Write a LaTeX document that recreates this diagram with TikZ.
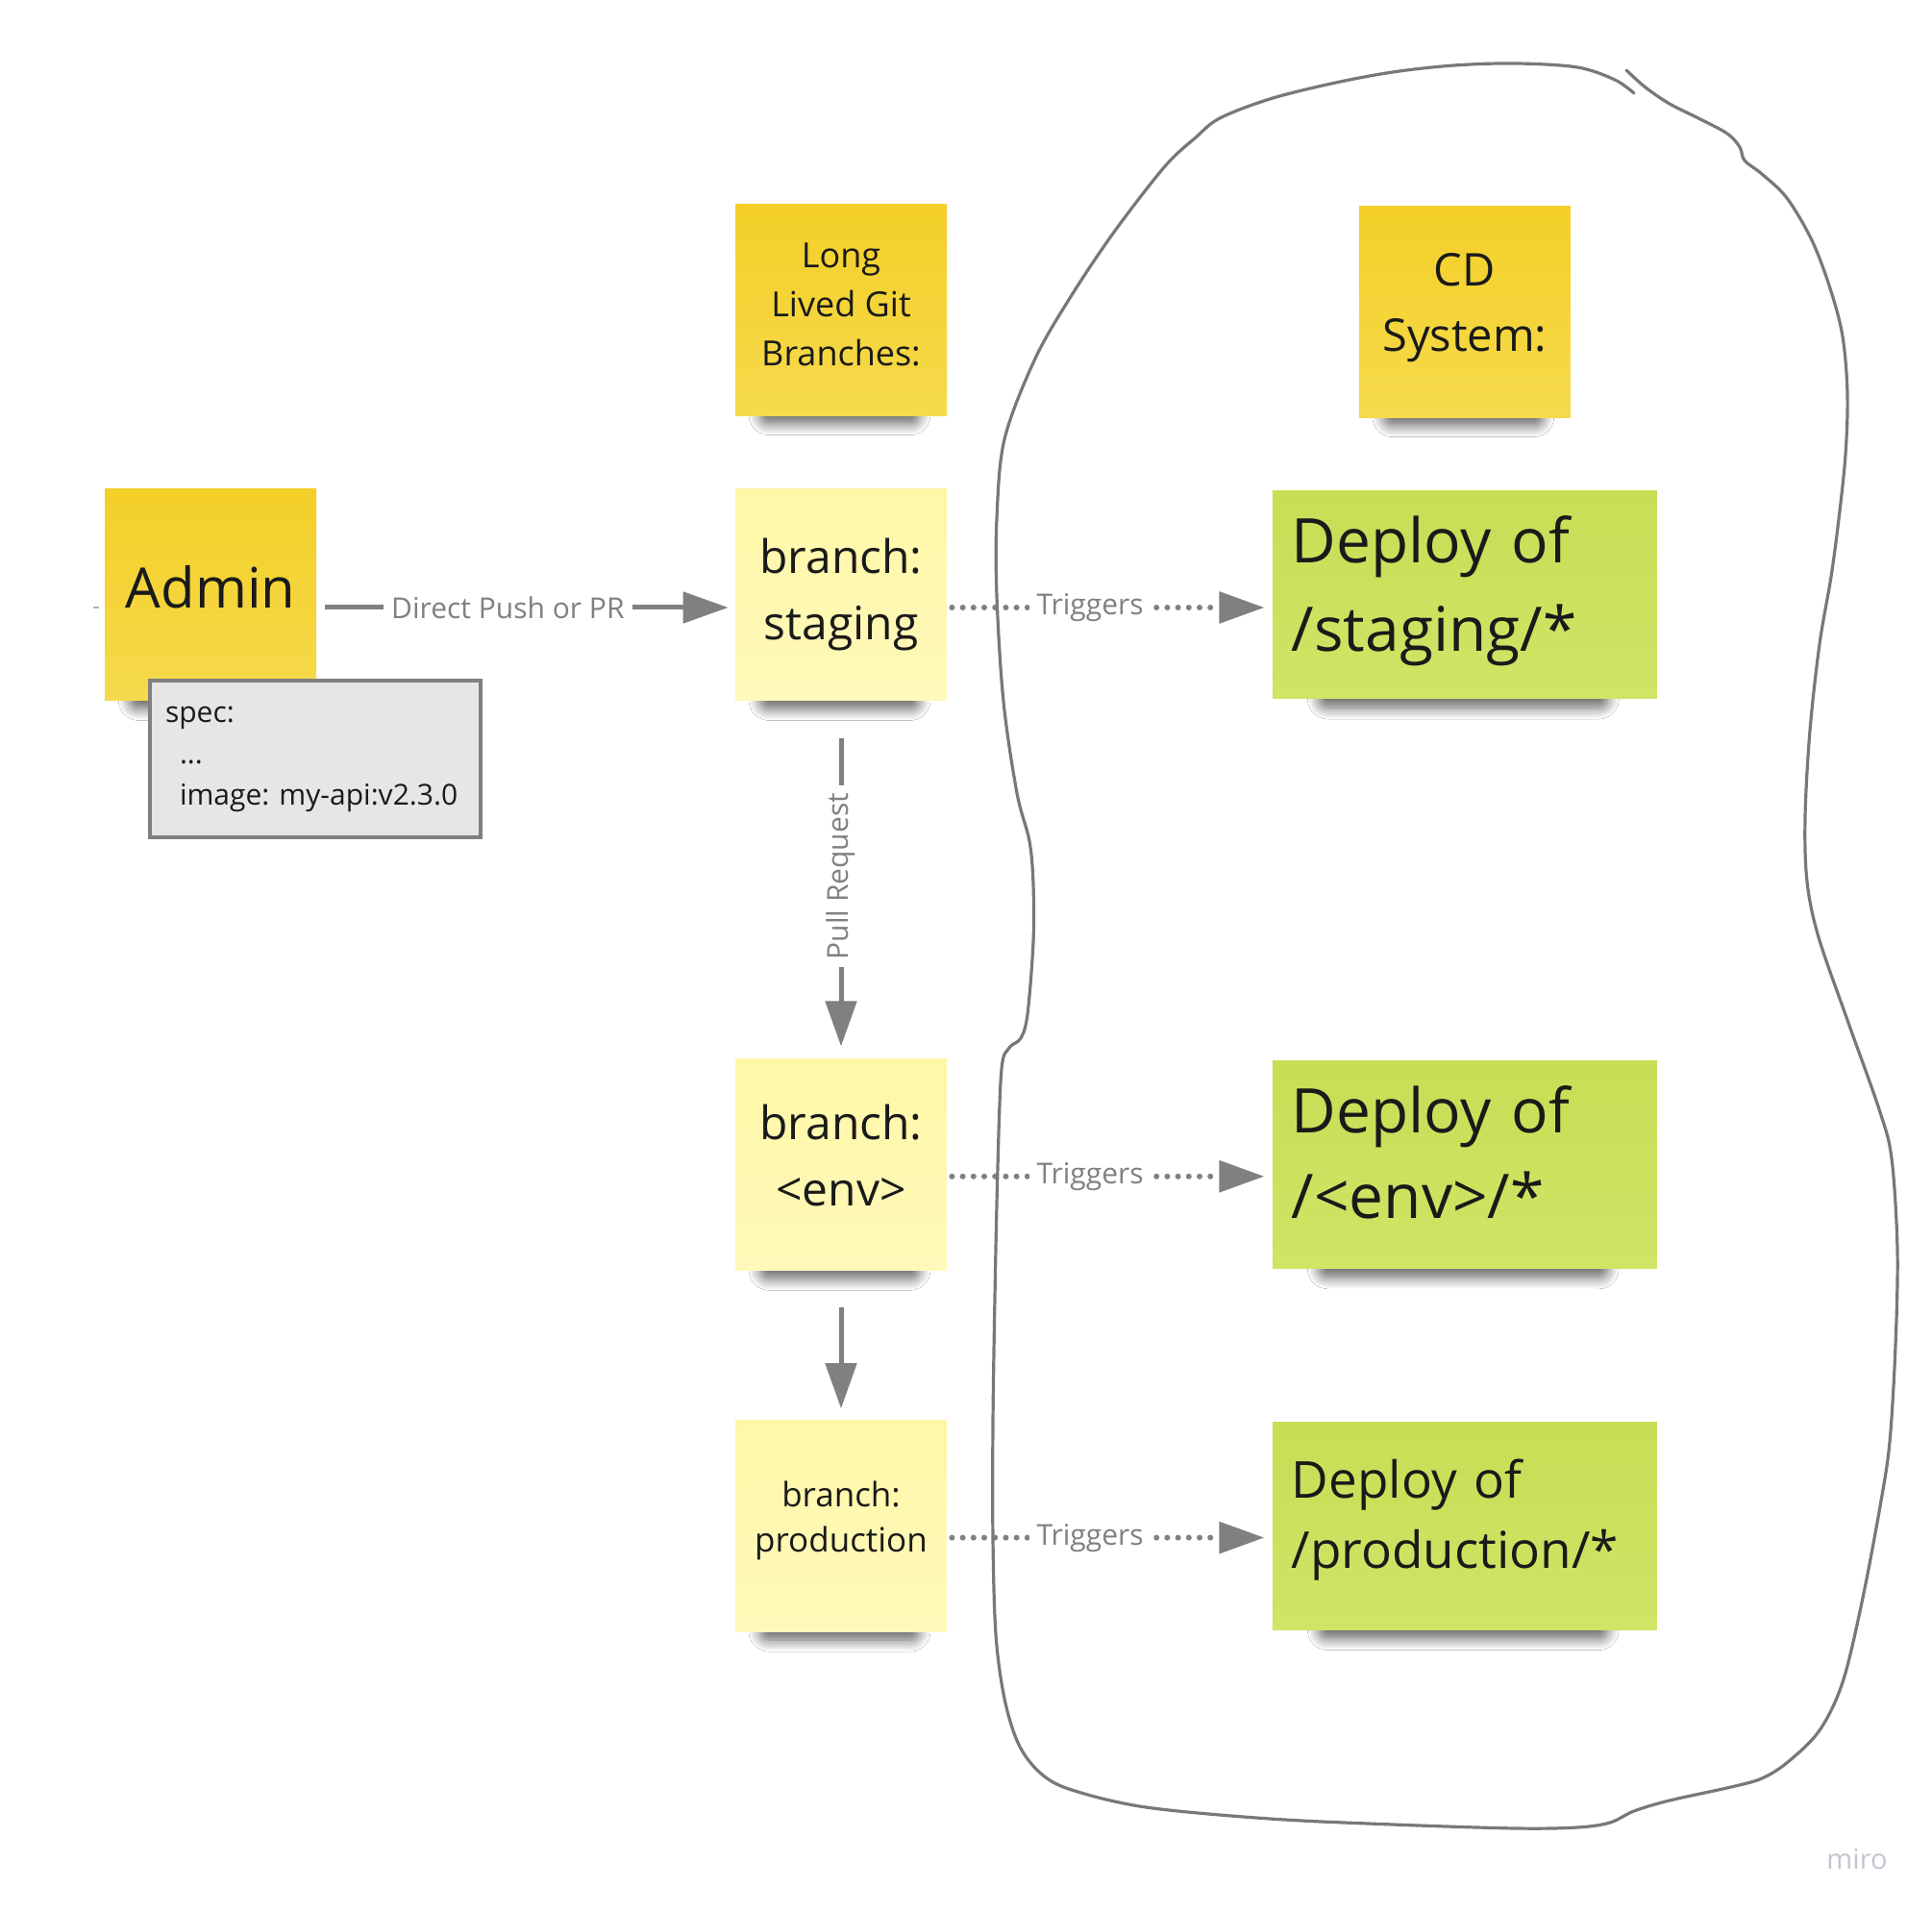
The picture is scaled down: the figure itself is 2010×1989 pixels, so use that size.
\documentclass[tikz,border=0pt]{standalone}
\usepackage{fontspec}
\setmainfont{Open Sans}
\usetikzlibrary{arrows.meta,positioning,shadows.blur}

\definecolor{stickyyel}{HTML}{F3CF27}
\definecolor{stickyyelb}{HTML}{F6DA4C}
\definecolor{stickylt}{HTML}{FFF7A8}
\definecolor{stickyltb}{HTML}{FFF9BA}
\definecolor{stickygrn}{HTML}{C7DE55}
\definecolor{stickygrnb}{HTML}{D0E466}
\definecolor{linegray}{HTML}{808080}
\definecolor{inkblack}{HTML}{1A1A1A}
\definecolor{specgray}{HTML}{E6E6E6}
\definecolor{mirogray}{HTML}{C4C5D0}
\definecolor{penline}{HTML}{787878}
\newcommand{\fs}[2]{\fontsize{#1}{#2}\selectfont}

\begin{document}
\begin{tikzpicture}[
x=0.5pt,y=-0.5pt,
node distance=38pt and 169pt,
sticky/.style={inner sep=0pt,align=center,text=inkblack,
minimum width=110pt,minimum height=110pt,
blur shadow={shadow xshift=-1pt,shadow yshift=-24pt,shadow scale=0.75,
shadow blur radius=8pt,shadow blur steps=12,shadow opacity=62,
shadow blur extra rounding=6pt}},
head/.style={sticky,top color=stickyyel,bottom color=stickyyelb},
branch/.style={sticky,top color=stickylt,bottom color=stickyltb},
deploy/.style={sticky,top color=stickygrn,bottom color=stickygrnb,
minimum width=200pt,minimum height=108pt,align=left,text width=180pt},
specbox/.style={draw=linegray,line width=2pt,fill=specgray,text=inkblack,
minimum width=172pt,minimum height=81.5pt,inner xsep=8pt,text width=156pt,
align=left,font=\fs{15pt}{21.5pt}\frenchspacing},
conn/.style={draw=linegray,line width=2.5pt,-{Triangle[length=23.5pt,width=16pt]}},
trig/.style={conn,line width=3pt,dash pattern=on 0pt off 5.6pt,line cap=round,
shorten <=2.5pt,shorten >=4pt},
lbl/.style={fill=white,text=linegray,inner xsep=4pt,inner ysep=2pt,
font=\fs{15pt}{18pt}},
pen/.style={draw=penline,line width=1.6pt,line cap=round,line join=round}
]
\fill[white] (0,0) rectangle (2010,1989);
\useasboundingbox (0,0) rectangle (2010,1989);

\node[branch,font=\fs{24pt}{34.5pt}] (staging) at (875,619) {branch:\\staging};
\node[head,font=\fs{18pt}{25.5pt},text depth=6pt,above=of staging] (longlived) {Long\\Lived Git\\Branches:};
\node[head,font=\fs{29pt}{35pt},text depth=9pt,left=217.5pt of staging] (admin) {Admin};
\node[branch,font=\fs{24pt}{34.5pt},text depth=10pt,below=186pt of staging] (env) {branch:\\<env>};
\node[branch,font=\fs{17.5pt}{23.5pt},text depth=10pt,below=77.5pt of env] (prod) {branch:\\production};
\node[deploy,font=\fs{32pt}{46pt},text depth=57.7pt,right=of staging] (depstg) {Deploy of\\/staging/*};
\node[deploy,font=\fs{32pt}{44.5pt},text depth=57.7pt,right=of env] (depenv) {Deploy of\\/<env>/*};
\node[deploy,font=\fs{26.5pt}{36.5pt},text depth=49.5pt,right=of prod] (depprod) {Deploy of\\/production/*};
\node[head,font=\fs{23.5pt}{34pt},text depth=9.5pt,above=of depstg] (cdsys) {CD\\System:};
\node[specbox,anchor=north west] (spec) at (154,706)
{spec:\\\hspace*{7.5pt}...\\\hspace*{7.5pt}image: my-api:v2.3.0};
\node[text=mirogray,font=\fs{14.5pt}{16pt}] (miro) at (1932,1934) {miro};

\coordinate (stubL) at (97,632);
\coordinate (stubR) at (103,632);
\draw[draw=linegray!60,line width=1pt] (stubL) -- (stubR);

\draw[conn,shorten <=4pt,shorten >=3.5pt] ([yshift=-6.5pt]admin.east) --
node[lbl,pos=0.457]{Direct Push or PR} ([yshift=-6.5pt]staging.west);
\draw[conn,shorten <=19.5pt,shorten >=6.5pt] (staging) --
node[lbl,rotate=90,pos=0.49]{Pull Request} (env);
\draw[conn,shorten <=19pt,shorten >=6pt] (env) -- (prod);
\draw[trig] ([yshift=-6.5pt]staging.east) --
node[lbl,pos=0.44]{Triggers} ([yshift=-6.5pt]depstg.west);
\draw[trig] ([yshift=-6pt]env.east) --
node[lbl,pos=0.44]{Triggers} ([yshift=-6pt]depenv.west);
\draw[trig] ([yshift=-6pt]prod.east) --
node[lbl,pos=0.44]{Triggers} ([yshift=-6pt]depprod.west);

\draw[pen] plot[smooth,tension=0.55] coordinates {
(1692,73) (1712,91) (1737,108) (1769,124) (1797,139) (1810,153) (1815,167)
(1833,181) (1859,206) (1885,250) (1904,300) (1917,350) (1922,410) (1920,473)
(1913,540) (1905,600) (1893,670) (1883,760) (1878,850) (1880,917) (1892,975)
(1923,1064) (1955,1154) (1968,1205) (1974,1300) (1972,1400) (1966,1500)
(1956,1567) (1937,1667) (1917,1750) (1893,1800) (1860,1833) (1833,1850)
(1801,1859) (1737,1873) (1700,1884) (1675,1896) (1641,1901) (1577,1902)
(1449,1898) (1321,1892) (1192,1880) (1115,1862) (1083,1845) (1060,1815)
(1045,1767) (1036,1700) (1033,1600) (1033,1482) (1035,1350) (1038,1214)
(1042,1112) (1050,1090) (1062,1080) (1069,1055) (1075,980) (1075,920)
(1071,875) (1058,825) (1044,730) (1037,620) (1037,540) (1045,457) (1077,373)
(1115,307) (1160,240) (1212,173) (1244,143) (1269,123) (1321,103) (1385,87)
(1449,75) (1513,68) (1577,66) (1641,70) (1680,83) (1700,97)};
\end{tikzpicture}
\end{document}
